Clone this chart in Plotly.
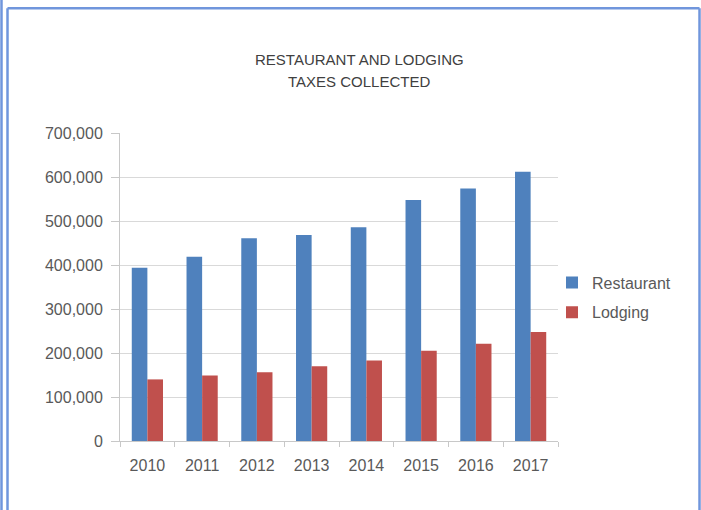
import plotly.graph_objects as go

years = ["2010", "2011", "2012", "2013", "2014", "2015", "2016", "2017"]
restaurant = [394000, 419000, 461000, 468000, 486000, 548000, 574000, 612000]
lodging = [140000, 149000, 156000, 170000, 183000, 205000, 221000, 248000]

W, H = 701, 510
L, R, T, B = 120, 558, 133, 441  # plot area in pixels


def px(x):
    return (x - L) / (R - L)


def py(y):
    return (B - y) / (B - T)


FONT = "Liberation Sans, Arial, sans-serif"
TXT = "#595959"
GRID = "#d9d9d9"
AXIS = "#c8c8c8"
BORDER = "#7096dc"

fig = go.Figure()
fig.add_trace(go.Bar(x=years, y=restaurant, name="Restaurant",
                     marker=dict(color="#4f81bd", line=dict(width=0)),
                     legendgroup="a"))
fig.add_trace(go.Bar(x=years, y=lodging, name="Lodging",
                     marker=dict(color="#c0504d", line=dict(width=0)),
                     legendgroup="b"))

shapes = [
    dict(type="line", xref="paper", yref="paper", x0=px(1.5), x1=px(1.5), y0=py(0), y1=py(520),
         line=dict(color=BORDER, width=2.5)),
    dict(type="line", xref="paper", yref="paper", x0=px(7.5), x1=px(7.5), y0=py(8.3), y1=py(520),
         line=dict(color=BORDER, width=2.5)),
    dict(type="line", xref="paper", yref="paper", x0=px(7.5), x1=px(699.5), y0=py(8.3), y1=py(8.3),
         line=dict(color=BORDER, width=2.5)),
    dict(type="line", xref="paper", yref="paper", x0=px(699.5), x1=px(699.5), y0=py(8.3), y1=py(520),
         line=dict(color=BORDER, width=2.5)),
]

annotations = [
    dict(text="RESTAURANT AND LODGING", xref="paper", yref="paper", x=px(359), y=py(59),
         xanchor="center", yanchor="middle", showarrow=False,
         font=dict(family=FONT, size=15, color="#404040")),
    dict(text="TAXES COLLECTED", xref="paper", yref="paper", x=px(359), y=py(81),
         xanchor="center", yanchor="middle", showarrow=False,
         font=dict(family=FONT, size=15, color="#404040")),
]

fig.update_layout(
    width=W, height=H,
    margin=dict(l=L, r=W - R, t=T, b=H - B, pad=0),
    paper_bgcolor="white", plot_bgcolor="white",
    barmode="group", bargap=0.43, bargroupgap=0,
    font=dict(family=FONT, size=16, color=TXT),
    shapes=shapes, annotations=annotations,
    legend=dict(x=px(552), y=py(297.5), xanchor="left", yanchor="middle",
                font=dict(family=FONT, size=16, color=TXT),
                tracegroupgap=6, bgcolor="rgba(0,0,0,0)"),
    showlegend=True,
)
fig.update_xaxes(type="category", showline=True, linecolor=AXIS, linewidth=1,
                 ticks="outside", tickson="boundaries", ticklen=5, tickcolor=AXIS,
                 ticklabelstandoff=10,
                 showgrid=False, tickfont=dict(family=FONT, size=16, color=TXT))
fig.update_yaxes(range=[0, 700000], dtick=100000, tickformat=",",
                 showline=True, linecolor=AXIS, linewidth=1,
                 ticks="outside", ticklen=8, tickcolor=AXIS,
                 ticklabelstandoff=5,
                 showgrid=True, gridcolor=GRID, gridwidth=1, zeroline=False,
                 tickfont=dict(family=FONT, size=16, color=TXT))

fig.write_html("out.html", config={"displayModeBar": False},
               post_script="document.body.style.margin='0';document.body.style.overflow='hidden';")
